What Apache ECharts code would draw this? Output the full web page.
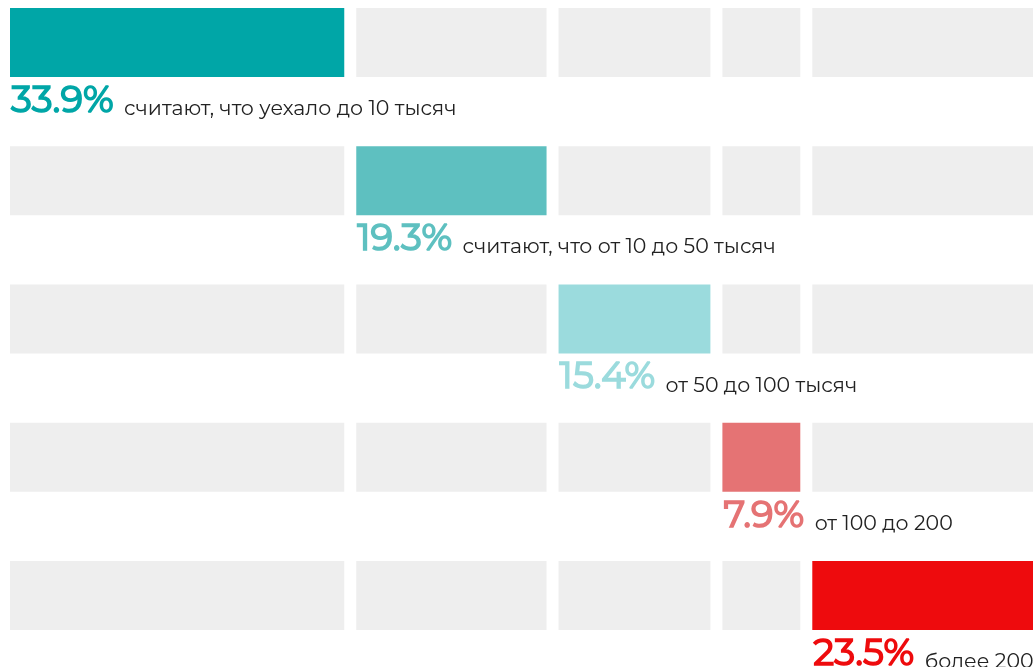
<!DOCTYPE html>
<html>
<head>
<meta charset="utf-8">
<style>
  html, body { margin: 0; padding: 0; background: #fff; }
  #chart { width: 1033px; height: 667px; }
</style>
<script src="https://cdn.jsdelivr.net/npm/echarts@6/dist/echarts.min.js"></script>
</head>
<body>
<div id="chart"></div>
<script>
// Data
var groups = ['до 10 тысяч', 'от 10 до 50 тысяч', 'от 50 до 100 тысяч', 'от 100 до 200', 'более 200'];
var shares = [33.9, 19.3, 15.4, 7.9, 23.5];
var shareLabels = ['33.9%', '19.3%', '15.4%', '7.9%', '23.5%'];
var captions = [
  'считают, что уехало до 10 тысяч',
  'считают, что от 10 до 50 тысяч',
  'от 50 до 100 тысяч',
  'от 100 до 200',
  'более 200'
];

var colors = ['#00a6a7', '#5ec0c0', '#9bdbdd', '#e57374', '#ee0b0d'];
var GAP = 12;

// running start of each segment
var starts = [];
var acc = 0;
shares.forEach(function (v) { starts.push(acc); acc += v; });

// one cell per (row, segment)
var cells = [];
groups.forEach(function (g, r) {
  shares.forEach(function (v, s) { cells.push([r, s]); });
});

var chart = echarts.init(document.getElementById('chart'));

chart.setOption({
  animation: false,
  grid: { left: 10, right: 37, top: 0, bottom: 0 },
  xAxis: { type: 'value', min: 0, max: 100, show: false },
  // rows are spaced 138px apart, first bar centred at 42px
  yAxis: { type: 'value', inverse: true, min: -0.3074, max: 4.5172, show: false },
  series: [{
    type: 'custom',
    data: cells,
    encode: { x: 1, y: 0 },
    renderItem: function (params, api) {
      var r = api.value(0), s = api.value(1);
      var p = api.coord([starts[s], r]);
      var w = api.size([shares[s], 0])[0];
      var h = api.size([0, 0.5])[1];
      var x = p[0] + s * GAP;
      var y = p[1] - h / 2;
      var active = r === s;
      var children = [{
        type: 'rect',
        shape: { x: x, y: y, width: w, height: h },
        style: { fill: active ? colors[s] : '#eeeeee' }
      }];
      if (active) {
        // percent + caption under the coloured bar
        children.push({
          type: 'text',
          style: {
            x: x + 1,
            y: y + h + 42.5,
            text: '{p|' + shareLabels[s] + '}{t| ' + captions[s] + '}',
            verticalAlign: 'bottom',
            rich: {
              p: { fontFamily: 'Montserrat, Inter, sans-serif', fontSize: 37, fontWeight: 400,
                   fill: colors[s], stroke: colors[s], lineWidth: 1.6,
                   lineHeight: 42, verticalAlign: 'bottom' },
              t: { fontFamily: 'Montserrat, Inter, sans-serif', fontSize: 20.5, fontWeight: 400,
                   fill: '#222', lineHeight: 30, verticalAlign: 'bottom', padding: [0, 0, 0, 5] }
            }
          }
        });
      }
      return { type: 'group', children: children };
    }
  }]
});
</script>
</body>
</html>
